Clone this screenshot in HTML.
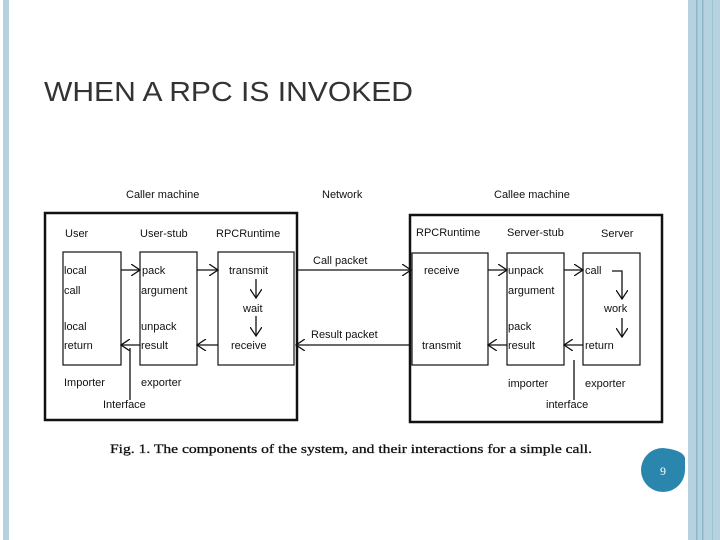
<!DOCTYPE html>
<html><head><style>
body{margin:0;width:720px;height:540px;background:#fff;overflow:hidden;position:relative;font-family:"Liberation Sans",sans-serif}
</style></head><body>
<svg width="720" height="540" viewBox="0 0 720 540" xmlns="http://www.w3.org/2000/svg" style="position:absolute;left:0;top:0">
<defs><marker id="a" markerWidth="10" markerHeight="12" refX="9" refY="6" orient="auto" markerUnits="userSpaceOnUse"><path d="M0,0 L9,6 L0,12" fill="none" stroke="#111" stroke-width="1.3"/></marker></defs>
<rect x="3" y="0" width="6" height="540" fill="#b6d2de"/>
<rect x="688" y="0" width="32" height="540" fill="#b6d2de"/>
<rect x="696" y="0" width="1.5" height="540" fill="#8cb6c9"/>
<rect x="702" y="0" width="1.5" height="540" fill="#8cb6c9"/>
<rect x="712" y="0" width="1" height="540" fill="#9cc1d2"/>
<text x="44" y="101" font-size="28" fill="#333" textLength="369" lengthAdjust="spacingAndGlyphs">WHEN A RPC IS INVOKED</text>
<g font-size="11" fill="#111">
<text x="126" y="198">Caller machine</text><text x="322" y="198">Network</text><text x="494" y="198">Callee machine</text>
</g>
<g fill="none" stroke="#111">
<rect x="45" y="213" width="252" height="207" stroke-width="2.5"/>
<rect x="410" y="215" width="252" height="207" stroke-width="2.5"/>
<rect x="63" y="252" width="58" height="113" stroke-width="1.2"/>
<rect x="140" y="252" width="57" height="113" stroke-width="1.2"/>
<rect x="218" y="252" width="76" height="113" stroke-width="1.2"/>
<rect x="412" y="253" width="76" height="112" stroke-width="1.2"/>
<rect x="507" y="253" width="57" height="112" stroke-width="1.2"/>
<rect x="583" y="253" width="57" height="112" stroke-width="1.2"/>
<g stroke-width="1.3">
<line x1="121" y1="270" x2="140" y2="270" marker-end="url(#a)"/>
<line x1="197" y1="270" x2="218" y2="270" marker-end="url(#a)"/>
<line x1="218" y1="345" x2="197" y2="345" marker-end="url(#a)"/>
<line x1="140" y1="345" x2="121" y2="345" marker-end="url(#a)"/>
<line x1="256" y1="279" x2="256" y2="298" marker-end="url(#a)"/>
<line x1="256" y1="316" x2="256" y2="336" marker-end="url(#a)"/>
<line x1="297" y1="270" x2="411" y2="270" marker-end="url(#a)"/>
<line x1="410" y1="345" x2="296" y2="345" marker-end="url(#a)"/>
<line x1="488" y1="270" x2="507" y2="270" marker-end="url(#a)"/>
<line x1="564" y1="270" x2="583" y2="270" marker-end="url(#a)"/>
<line x1="583" y1="345" x2="564" y2="345" marker-end="url(#a)"/>
<line x1="507" y1="345" x2="488" y2="345" marker-end="url(#a)"/>
<polyline points="612,271 622,271 622,299" marker-end="url(#a)"/>
<line x1="622" y1="318" x2="622" y2="337" marker-end="url(#a)"/>
<line x1="130" y1="348" x2="130" y2="400"/>
<line x1="574" y1="360" x2="574" y2="400"/>
</g></g>
<g font-size="11" fill="#111">
<text x="65" y="237">User</text><text x="140" y="237">User-stub</text><text x="216" y="237">RPCRuntime</text>
<text x="416" y="236">RPCRuntime</text><text x="507" y="236">Server-stub</text><text x="601" y="237">Server</text>
<text x="64" y="274">local</text><text x="64" y="294">call</text><text x="64" y="330">local</text><text x="64" y="349">return</text>
<text x="142" y="274">pack</text><text x="141" y="294">argument</text><text x="141" y="330">unpack</text><text x="141" y="349">result</text>
<text x="229" y="274">transmit</text><text x="243" y="312">wait</text><text x="231" y="349">receive</text>
<text x="313" y="264">Call packet</text><text x="311" y="338">Result packet</text>
<text x="424" y="274">receive</text><text x="422" y="349">transmit</text>
<text x="508" y="274">unpack</text><text x="508" y="294">argument</text><text x="508" y="330">pack</text><text x="508" y="349">result</text>
<text x="585" y="274">call</text><text x="604" y="312">work</text><text x="585" y="349">return</text>
<text x="64" y="386">Importer</text><text x="141" y="386">exporter</text><text x="103" y="408">Interface</text>
<text x="508" y="387">importer</text><text x="585" y="387">exporter</text><text x="546" y="408">interface</text>
</g>
<text x="110" y="453" font-family="Liberation Serif,serif" font-size="13" fill="#111" stroke="#111" stroke-width="0.3" textLength="482" lengthAdjust="spacingAndGlyphs">Fig. 1.   The components of the system, and their interactions for a simple call.</text>
<path d="M663,448 A22,22 0 1 0 685,470 L685,458 Q683,450 663,448 Z" fill="#2b86ad"/>
<text x="663" y="475" font-family="Liberation Serif,serif" font-size="12" fill="#fff" text-anchor="middle">9</text>
</svg>
</body></html>
